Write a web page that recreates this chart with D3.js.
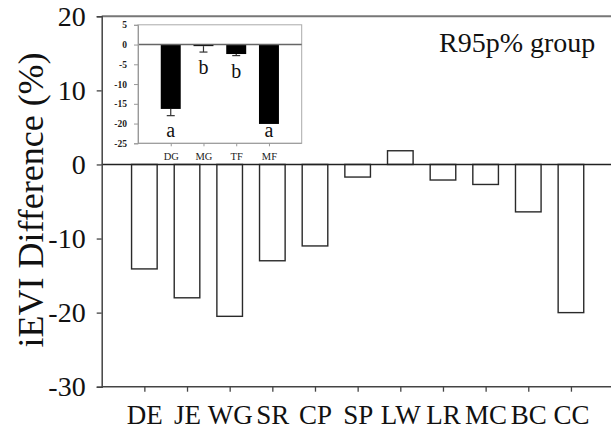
<!DOCTYPE html>
<html><head><meta charset="utf-8">
<script src="https://cdn.jsdelivr.net/npm/d3@7"></script>
<style>body{margin:0;background:#fff}svg{display:block}text{font-family:"Liberation Serif","Times New Roman",serif}</style>
</head><body><svg id="c" width="611" height="431"></svg>
<script>
const categories = ["DE","JE","WG","SR","CP","SP","LW","LR","MC","BC","CC"];
const values = [-14.1,-18,-20.5,-13,-11,-1.7,1.85,-2.1,-2.7,-6.4,-20];
const yTicks = [-30,-20,-10,0,10,20];
const insetCategories = ["DG","MG","TF","MF"];
const insetValues = [-16.3,-0.4,-2.4,-20.1];
const insetErrors = [1.7,1.5,0.4,0];
const insetLetters = ["a","b","b","a"];
const insetTicks = [5,0,-5,-10,-15,-20,-25];
const groupLabel = "R95p% group";
const yTitle = "iEVI Difference (%)";

const svg = d3.select("#c");
const W = 611;
const fmt = d => String(d);
const x = d3.scalePoint().domain(categories).range([101.7, 613.6]).padding(1);
const y = d3.scaleLinear().domain([-30,20]).range([386.7,16.3]);
const bw = x.step()*0.6;

// bars
svg.append("g").selectAll("rect").data(values).join("rect")
  .attr("x",(d,i)=>x(categories[i])-bw/2)
  .attr("y",d=>y(Math.max(0,d)))
  .attr("width",bw)
  .attr("height",d=>Math.abs(y(d)-y(0)))
  .attr("fill","#fff").attr("stroke","#2a2a2a").attr("stroke-width",1.4);

// top frame line
svg.append("line").attr("x1",101.7).attr("x2",W).attr("y1",y(20)).attr("y2",y(20))
  .attr("stroke","#777").attr("stroke-width",2);
// zero line
svg.append("line").attr("x1",101.7).attr("x2",W).attr("y1",y(0)).attr("y2",y(0))
  .attr("stroke","#222").attr("stroke-width",1.5);

// left axis
const ya = svg.append("g").attr("transform","translate(101.7,0)")
  .call(d3.axisLeft(y).tickValues(yTicks).tickSize(5).tickPadding(11).tickFormat(fmt));
ya.select(".domain").attr("stroke","#444").attr("stroke-width",1.5);
ya.selectAll(".tick line").attr("stroke","#444").attr("stroke-width",1.3);
ya.selectAll("text").attr("font-size",28).attr("fill","#111").attr("font-family","Liberation Serif");

// bottom axis
const xa = svg.append("g").attr("transform",`translate(0,${y(-30)})`)
  .call(d3.axisBottom(x).tickSize(5).tickPadding(13));
xa.select(".domain").attr("d",`M101.7,0H${W}`).attr("stroke","#444").attr("stroke-width",1.5);
xa.selectAll(".tick line").attr("stroke","#444").attr("stroke-width",1.3);
xa.selectAll("text").attr("font-size",27).attr("fill","#111").attr("font-family","Liberation Serif");

// y title
svg.append("text").attr("transform","translate(43,200) rotate(-90)")
  .attr("text-anchor","middle").attr("font-size",36).attr("fill","#111").text(yTitle);

// group label
svg.append("text").attr("x",439).attr("y",52).attr("font-size",28).attr("fill","#111").text(groupLabel);

// inset
const ix = d3.scalePoint().domain(insetCategories).range([138,301.7]).padding(1);
const iy = d3.scaleLinear().domain([-25,5]).range([143.3,24.8]);
const ibw = ix.step()*0.61;
const ig = svg.append("g");
ig.append("rect").attr("x",138).attr("y",iy(5)).attr("width",301.7-138).attr("height",iy(-25)-iy(5))
  .attr("fill","#fff").attr("stroke","#aaa").attr("stroke-width",1);
ig.append("g").selectAll("rect").data(insetValues).join("rect")
  .attr("x",(d,i)=>ix(insetCategories[i])-ibw/2)
  .attr("y",iy(0)).attr("width",ibw).attr("height",d=>iy(d)-iy(0)).attr("fill","#000");
ig.append("line").attr("x1",138).attr("x2",301.7).attr("y1",iy(0)).attr("y2",iy(0))
  .attr("stroke","#666").attr("stroke-width",1.6);
// error bars
insetValues.forEach((v,i)=>{
  if(insetErrors[i]<=0) return;
  const cx = ix(insetCategories[i]);
  ig.append("line").attr("x1",cx).attr("x2",cx).attr("y1",iy(v)).attr("y2",iy(v-insetErrors[i]))
    .attr("stroke","#333").attr("stroke-width",1.2);
  ig.append("line").attr("x1",cx-4).attr("x2",cx+4).attr("y1",iy(v-insetErrors[i])).attr("y2",iy(v-insetErrors[i]))
    .attr("stroke","#333").attr("stroke-width",1.2);
});
// letters
ig.append("g").selectAll("text").data(insetLetters).join("text")
  .attr("x",(d,i)=>ix(insetCategories[i]))
  .attr("y",(d,i)=>iy(Math.max(insetValues[i]-insetErrors[i]-5.6,-23.3)))
  .attr("text-anchor","middle").attr("font-size",20).attr("fill","#111").text(d=>d);
// inset axes
const iya = ig.append("g").attr("transform","translate(138,0)")
  .call(d3.axisLeft(iy).tickValues(insetTicks).tickSize(4).tickPadding(7).tickFormat(fmt));
iya.select(".domain").attr("stroke","#999");
iya.selectAll(".tick line").attr("stroke","#999");
iya.selectAll("text").attr("font-size",9.5).attr("font-weight","bold").attr("fill","#222").attr("font-family","Liberation Serif");
const ixa = ig.append("g").attr("transform",`translate(0,${iy(-25)})`)
  .call(d3.axisBottom(ix).tickSize(3).tickPadding(6));
ixa.select(".domain").attr("d","M138,0H301.7").attr("stroke","#999");
ixa.selectAll(".tick line").attr("stroke","#999");
ixa.selectAll("text").attr("font-size",10.5).attr("fill","#222").attr("font-family","Liberation Serif");
</script></body></html>
